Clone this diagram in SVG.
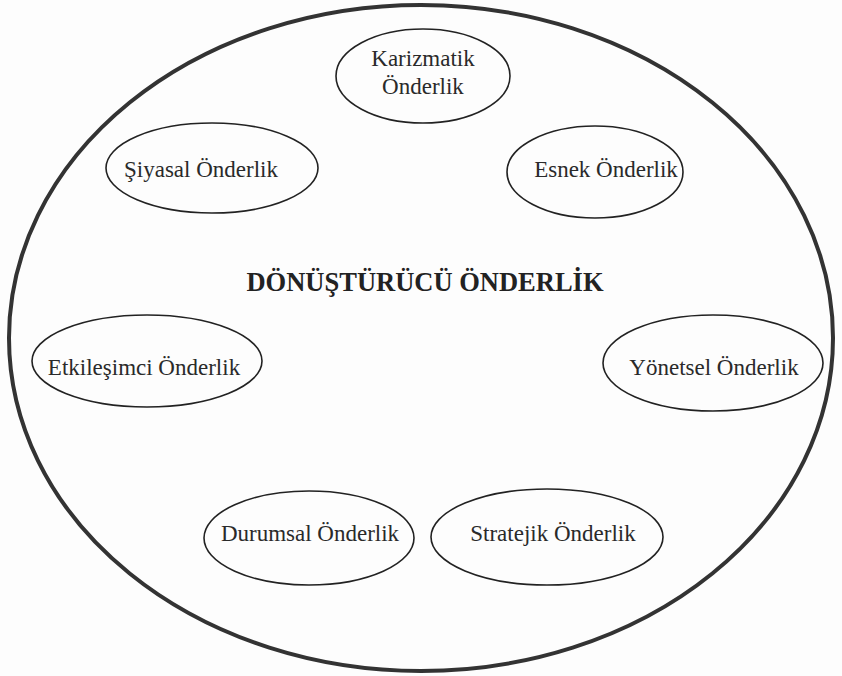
<svg xmlns="http://www.w3.org/2000/svg" width="842" height="676" viewBox="0 0 842 676">
<style>
  .outer { fill: none; stroke: #333; stroke-width: 4; }
  .node { fill: none; stroke: #222; stroke-width: 1.6; }
  .lbl { font-family: "Liberation Serif", "Times New Roman", serif; font-size: 23px; fill: #2a2a2a; text-anchor: middle; }
  .title { font-family: "Liberation Serif", "Times New Roman", serif; font-size: 26.5px; font-weight: bold; fill: #222; text-anchor: middle; }
</style>
<rect width="842" height="676" fill="#fdfdfd"/>
<g id="outer">
  <ellipse class="outer" cx="421" cy="338" rx="412" ry="333"/>
  <text class="title" x="425" y="291">DÖNÜŞTÜRÜCÜ ÖNDERLİK</text>
</g>
<g id="connectors"></g>
<g id="karizmatik">
  <ellipse class="node" cx="423" cy="76" rx="87" ry="47"/>
  <text class="lbl" x="423" y="66">Karizmatik</text>
  <text class="lbl" x="423" y="94">Önderlik</text>
</g>
<g id="siyasal">
  <ellipse class="node" cx="212" cy="168" rx="106" ry="45"/>
  <text class="lbl" x="201" y="177">Şiyasal Önderlik</text>
</g>
<g id="esnek">
  <ellipse class="node" cx="595" cy="172" rx="88" ry="46"/>
  <text class="lbl" x="606" y="177">Esnek Önderlik</text>
</g>
<g id="etkilesimci">
  <ellipse class="node" cx="147" cy="361" rx="115" ry="46"/>
  <text class="lbl" x="144" y="375">Etkileşimci Önderlik</text>
</g>
<g id="yonetsel">
  <ellipse class="node" cx="713" cy="363" rx="110" ry="48"/>
  <text class="lbl" x="714" y="375">Yönetsel Önderlik</text>
</g>
<g id="durumsal">
  <ellipse class="node" cx="309" cy="538" rx="105" ry="47"/>
  <text class="lbl" x="310" y="541">Durumsal Önderlik</text>
</g>
<g id="stratejik">
  <ellipse class="node" cx="547" cy="537" rx="116" ry="48"/>
  <text class="lbl" x="553" y="541">Stratejik Önderlik</text>
</g>
</svg>
